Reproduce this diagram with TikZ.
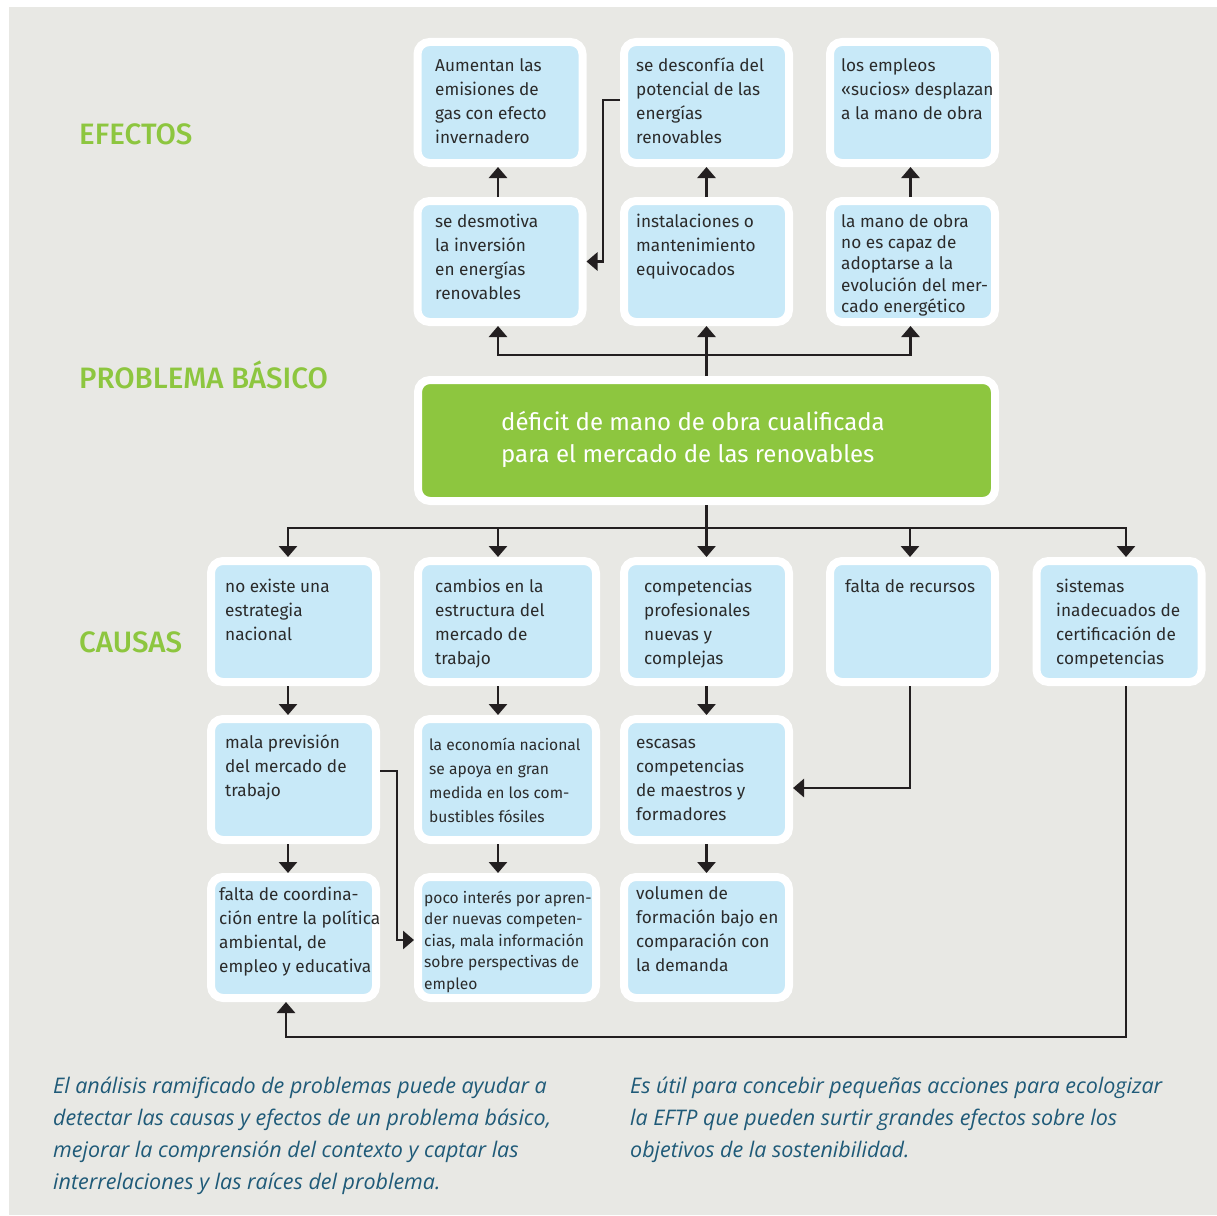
\documentclass[tikz,border=0pt]{standalone}
\usepackage{fontspec}
\setmainfont{Fira Sans}
\newfontfamily\medfont{Fira Sans Medium}
\newfontfamily\capfont{Open Sans}
\usetikzlibrary{arrows.meta,calc}
\definecolor{bgc}{HTML}{E8E8E4}
\definecolor{boxblue}{HTML}{C8E9F8}
\definecolor{coregreen}{HTML}{8DC63F}
\definecolor{labgreen}{HTML}{8DC63F}
\definecolor{txtc}{HTML}{2B2B2B}
\definecolor{arrc}{HTML}{231F20}
\definecolor{capc}{HTML}{1F5A78}
\newcommand\fl{\rule{0pt}{16pt}}
\newcommand\flg{\rule{0pt}{21pt}}
\begin{document}
\begin{tikzpicture}[x=1pt,y=-1pt,
  box/.style={draw=white, line width=8pt, fill=boxblue, rounded corners=12pt, inner sep=0pt, minimum width=165pt, minimum height=121pt},
  widebox/.style={box, minimum width=178pt},
  corebox/.style={box, fill=coregreen, minimum width=577pt},
  conn/.style={draw=arrc, line width=2.8pt},
  arr/.style={conn, -{Triangle[width=18pt,length=11pt]}},
  txt/.style={anchor=north west, inner sep=0pt, align=left, text=txtc, font=\fontsize{17.2}{24}\selectfont},
  tighttxt/.style={txt, font=\fontsize{17.2}{21.3}\selectfont},
  smalltxt/.style={txt, font=\fontsize{15.6}{24}\selectfont},
  smalltight/.style={txt, font=\fontsize{15.6}{21.5}\selectfont},
  coretxt/.style={anchor=north west, inner sep=0pt, align=left, text=white, font=\fontsize{24}{32}\selectfont},
  lab/.style={anchor=base west, inner sep=0pt, text=labgreen, font=\medfont\fontsize{29.5}{34}\selectfont},
  captxt/.style={anchor=north west, inner sep=0pt, align=left, text=capc, font=\capfont\itshape\fontsize{21.5}{32}\selectfont}
]
\useasboundingbox (0,0) rectangle (1217,1215);
\fill[white] (0,0) rectangle (1217,1215);
\fill[bgc] (9,7) rectangle (1217,1215);

% effect boxes
\node[box] (e1) at (500,102.5) {};
\node[box] (e2) at (706.5,102.5) {};
\node[box] (e3) at (912.5,102.5) {};
\node[box] (m1) at (500,261.5) {};
\node[box] (m2) at (706.5,261.5) {};
\node[box] (m3) at (912.5,261.5) {};
% core
\node[corebox] (core) at (706.5,440.5) {};
% causes
\node[box] (c1) at (293.5,621.5) {};
\node[widebox] (c2) at (507,621.5) {};
\node[box] (c3) at (706.5,621.5) {};
\node[box] (c4) at (912.5,621.5) {};
\node[box] (c5) at (1119,621.5) {};
\node[box] (d1) at (293.5,779.5) {};
\node[widebox] (d2) at (507,779.5) {};
\node[box] (d3) at (706.5,779.5) {};
\node[box] (f1) at (293.5,937.5) {};
\node[widebox] (f2) at (507,937.5) {};
\node[box] (f3) at (706.5,937.5) {};

% texts
\node[txt] (te1) at (435,55) {\fl Aumentan las\\emisiones de\\gas con efecto\\invernadero};
\node[txt] (te2) at (636,55) {\fl se desconfía del\\potencial de las\\energías\\renovables};
\node[txt] (te3) at (841,55) {\fl los empleos\\«sucios» desplazan\\a la mano de obra};
\node[txt] (tm1) at (435,211) {\fl se desmotiva\\la inversión\\en energías\\renovables};
\node[txt] (tm2) at (636,211) {\fl instalaciones o\\mantenimiento\\equivocados};
\node[tighttxt] (tm3) at (841,211) {\fl la mano de obra\\no es capaz de\\adoptarse a la\\evolución del mer-\\cado energético};
\node[coretxt] (tcore) at (501,409) {\flg déficit de mano de obra cualificada\\para el mercado de las renovables};
\node[txt] (tc1) at (225,576) {\fl no existe una\\estrategia\\nacional};
\node[txt] (tc2) at (435,576) {\fl cambios en la\\estructura del\\mercado de\\trabajo};
\node[txt] (tc3) at (644,576) {\fl competencias\\profesionales\\nuevas y\\complejas};
\node[txt] (tc4) at (845,576) {\fl falta de recursos};
\node[txt] (tc5) at (1056,576) {\fl sistemas\\inadecuados de\\certificación de\\competencias};
\node[txt] (td1) at (225,732) {\fl mala previsión\\del mercado de\\trabajo};
\node[smalltxt] (td2) at (429,734) {\fl la economía nacional\\se apoya en gran\\medida en los com-\\bustibles fósiles};
\node[txt] (td3) at (636,732) {\fl escasas\\competencias\\de maestros y\\formadores};
\node[txt] (tf1) at (219,884) {\fl falta de coordina-\\ción entre la política\\ambiental, de\\empleo y educativa};
\node[smalltight] (tf2) at (424,887) {\fl poco interés por apren-\\der nuevas competen-\\cias, mala información\\sobre perspectivas de\\empleo};
\node[txt] (tf3) at (636,883) {\fl volumen de\\formación bajo en\\comparación con\\la demanda};

% labels
\node[lab] (lef) at (79,144) {EFECTOS};
\node[lab] (lpb) at (79,388) {PROBLEMA BÁSICO};
\node[lab] (lca) at (79,652) {CAUSAS};

% captions
\node[captxt] (cap1) at (53,1072) {\flg El análisis ramificado de problemas puede ayudar a\\detectar las causas y efectos de un problema básico,\\mejorar la comprensión del contexto y captar las\\interrelaciones y las raíces del problema.};
\node[captxt] (cap2) at (630,1072) {\flg Es útil para concebir pequeñas acciones para ecologizar\\la EFTP que pueden surtir grandes efectos sobre los\\objetivos de la sostenibilidad.};

% connectors: effects
\draw[arr] ([xshift=-2pt]m1.north) -- ([xshift=-2pt]e1.south);
\draw[arr] (m2.north) -- (e2.south);
\draw[arr] ([xshift=-2pt]m3.north) -- ([xshift=-2pt]e3.south);
\draw[arr] ([yshift=2.5pt]e2.west) -- ++(-17,0) |- (m1.east);
\coordinate (jt) at (706.5,355);
\draw[arr] (core.north) -- (m2.south);
\draw[arr] (jt) -| ([xshift=-2pt]m1.south);
\draw[arr] (jt) -| ([xshift=-2pt]m3.south);

% connectors: causes
\coordinate (jb) at (706.5,528);
\draw[conn] (core.south) -- (jb);
\draw[arr] (jb) -| ([xshift=-5.5pt]c1.north);
\draw[arr] (jb) -| ([xshift=-9pt]c2.north);
\draw[arr] (jb) -- (c3.north);
\draw[arr] (jb) -| ([xshift=-2.5pt]c4.north);
\draw[arr] (jb) -| ([xshift=7pt]c5.north);
\draw[arr] ([xshift=-5.5pt]c1.south) -- ([xshift=-5.5pt]d1.north);
\draw[arr] ([xshift=-5.5pt]d1.south) -- ([xshift=-5.5pt]f1.north);
\draw[arr] ([xshift=-9pt]c2.south) -- ([xshift=-9pt]d2.north);
\draw[arr] ([xshift=-9pt]d2.south) -- ([xshift=-9pt]f2.north);
\draw[arr] (c3.south) -- (d3.north);
\draw[arr] (d3.south) -- (f3.north);
\draw[arr] ([xshift=-2.5pt]c4.south) |- ([yshift=-8.5pt]d3.east);
\draw[arr] ([yshift=8.5pt]d1.east) -- ++(17,0) |- ([yshift=-2.5pt]f2.west);
\draw[arr] ([xshift=7pt]c5.south) -- ++(0,351) -| ([xshift=-7.5pt]f1.south);
\end{tikzpicture}
\end{document}
